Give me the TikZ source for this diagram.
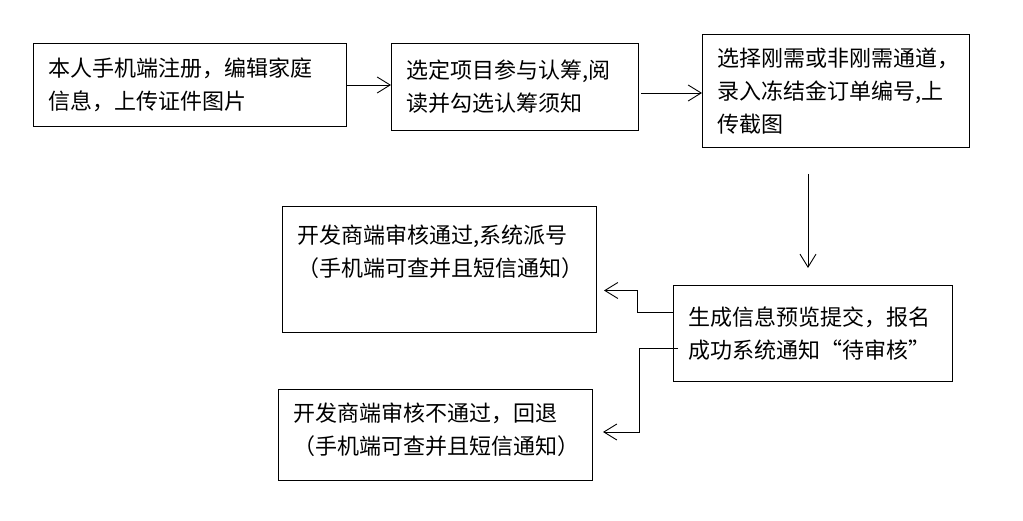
\documentclass[tikz,border=0pt]{standalone}
\usepackage{fontspec}
\setmainfont{Noto Sans CJK SC}
\usetikzlibrary{positioning, arrows.meta, calc}

\begin{document}
\begin{tikzpicture}[x=1pt, y=-1pt,
	box/.style={draw, line width=1pt, anchor=north west, align=left, inner xsep=15pt, inner ysep=0pt, font=\fontsize{22}{33}\selectfont},
	arr/.style={line width=0.9pt, -{Straight Barb[length=13pt,width=16pt]}}]
	\useasboundingbox (0,0) rectangle (1023,521);
	
	% Draw boxes
	\node[box, text width=283pt, minimum height=83pt] (register) at (33,43) {本人手机端注册，编辑家庭\\信息，上传证件图片};
	\node[box, text width=217pt, minimum height=87pt] (select) at (391,43) {选定项目参与认筹,阅\\读并勾选认筹须知};
	\node[box, text width=237pt, minimum height=113pt] (channel) at (702,34) {选择刚需或非刚需通道，\\录入冻结金订单编号,上\\传截图};
	\node[box, text width=249pt, minimum height=96pt] (preview) at (673,285) {生成信息预览提交，报名\\成功系统通知“待审核”};
	\node[box, text width=284pt, minimum height=126pt] (pass) at (282,206) {开发商端审核通过,系统派号\\（手机端可查并且短信通知）\\[4pt]~};
	\node[box, text width=284pt, minimum height=91pt] (reject) at (278,389) {开发商端审核不通过，回退\\（手机端可查并且短信通知）\\[-20pt]~};
	
	% Draw arrows
	\draw[arr] (register.east) -- (register.east -| select.west);
	\draw[arr] ([xshift=2pt,yshift=-6pt]select.east) -- ([yshift=-6pt]select.east -| channel.west);
	\draw[arr] ([xshift=-28pt,yshift=-26pt]channel.south) -- ++(0,94);
	\draw[arr] ([yshift=21pt]preview.west) -- ++(-36,0) |- ([xshift=7pt,yshift=-21pt]pass.east);
	\draw[arr] ([xshift=5pt,yshift=-15pt]preview.west) -- ++(-39,0) |- ([xshift=10pt,yshift=3pt]reject.east);
	
\end{tikzpicture}
\end{document}
